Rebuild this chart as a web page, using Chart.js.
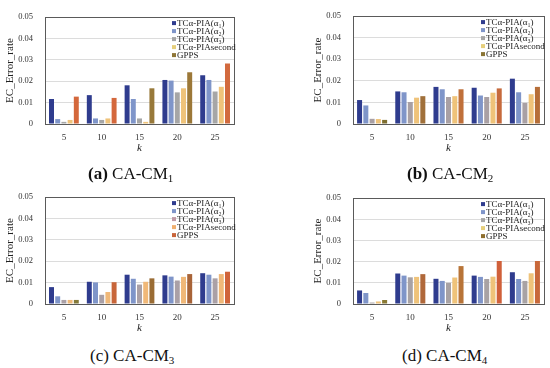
<!DOCTYPE html>
<html>
<head>
<meta charset="utf-8">
<script src="https://cdn.jsdelivr.net/npm/chart.js@4"></script>
<style>
  body { margin:0; background:#fff; }
  #wrap { position:relative; width:550px; height:368px; overflow:hidden; background:#fff; }
  canvas { position:absolute; }
  .cap { position:absolute; font-family:'Liberation Serif', serif; font-size:17px; color:#111; white-space:nowrap; }
  .cap b { font-weight:bold; }
  .cap sub { font-size:11px; vertical-align:-3px; }
</style>
</head>
<body>
<div id="wrap">
  <canvas id="c1"></canvas>
  <canvas id="c2"></canvas>
  <canvas id="c3"></canvas>
  <canvas id="c4"></canvas>
  <div class="cap" style="left:88px;top:164px"><b>(a)</b> CA-CM<sub>1</sub></div>
  <div class="cap" style="left:407px;top:164px"><b>(b)</b> CA-CM<sub>2</sub></div>
  <div class="cap" style="left:90px;top:346px">(c) CA-CM<sub>3</sub></div>
  <div class="cap" style="left:402px;top:346px">(d) CA-CM<sub>4</sub></div>
</div>
<script>
// categories and series names
const kValues = ['5', '10', '15', '20', '25']
const seriesNames = ['TCα-PIA(α₁)', 'TCα-PIA(α₂)', 'TCα-PIA(α₃)', 'TCα-PIAsecond', 'GPPS']

// CA-CM1
const cm1Alpha1 = [0.0117, 0.0135, 0.0181, 0.0206, 0.0228]
const cm1Alpha2 = [0.0023, 0.0026, 0.0117, 0.0203, 0.0206]
const cm1Alpha3 = [0.0010, 0.0019, 0.0026, 0.0148, 0.0152]
const cm1Second = [0.0019, 0.0026, 0.0010, 0.0167, 0.0174]
const cm1Gpps   = [0.0128, 0.0122, 0.0167, 0.0242, 0.0283]

// CA-CM2
const cm2Alpha1 = [0.0111, 0.0151, 0.0172, 0.0168, 0.0210]
const cm2Alpha2 = [0.0086, 0.0147, 0.0161, 0.0132, 0.0147]
const cm2Alpha3 = [0.0024, 0.0102, 0.0125, 0.0125, 0.0098]
const cm2Second = [0.0023, 0.0122, 0.0129, 0.0145, 0.0138]
const cm2Gpps   = [0.0019, 0.0129, 0.0161, 0.0165, 0.0172]

// CA-CM3
const cm3Alpha1 = [0.0079, 0.0104, 0.0137, 0.0134, 0.0144]
const cm3Alpha2 = [0.0036, 0.0101, 0.0118, 0.0128, 0.0137]
const cm3Alpha3 = [0.0019, 0.0043, 0.0091, 0.0110, 0.0120]
const cm3Second = [0.0019, 0.0056, 0.0104, 0.0127, 0.0140]
const cm3Gpps   = [0.0019, 0.0102, 0.0120, 0.0140, 0.0151]

// CA-CM4
const cm4Alpha1 = [0.0064, 0.0144, 0.0119, 0.0134, 0.0150]
const cm4Alpha2 = [0.0052, 0.0134, 0.0109, 0.0128, 0.0118]
const cm4Alpha3 = [0.0007, 0.0126, 0.0100, 0.0118, 0.0109]
const cm4Second = [0.0012, 0.0128, 0.0125, 0.0129, 0.0145]
const cm4Gpps   = [0.0019, 0.0141, 0.0179, 0.0203, 0.0203]

const yMax = 0.05
const yStep = 0.01

Chart.defaults.font.family = "'Liberation Serif', serif"
Chart.defaults.color = '#333'

// box around plot + legend drawn inside the plot area
const framePlugin = {
    id: 'frame',
    afterDraw: (chart, args, opts) => {
        const ctx = chart.ctx
        const a = chart.chartArea
        ctx.save()
        ctx.strokeStyle = '#5a5a5a'
        ctx.lineWidth = 1
        ctx.strokeRect(Math.round(a.left) + 0.5, Math.round(a.top) + 0.5, Math.round(a.right - a.left), Math.round(a.bottom - a.top))
        // legend
        ctx.font = "9px 'Liberation Serif', serif"
        ctx.textBaseline = 'middle'
        chart.data.datasets.forEach((ds, i) => {
            const y = a.top + 6 + i * 8
            const x = a.right - opts.offset
            ctx.fillStyle = opts.colors[i]
            ctx.fillRect(x, y - 2, 4, 4)
            ctx.fillStyle = '#222'
            ctx.fillText(ds.label, x + 5, y + 0.5)
        })
        ctx.restore()
    }
}

const makeChart = (id, box, series, colors, gppsColors, legendColors, legendOffset) => {
    const canvas = document.getElementById(id)
    const w = 45 + (box.right - box.left) + 6
    const h = 9 + (box.bottom - box.top) + 36
    canvas.width = w
    canvas.height = h
    canvas.style.left = (box.left - 45) + 'px'
    canvas.style.top = (box.top - 9) + 'px'

    const datasets = series.map((vals, i) => ({
        label: seriesNames[i],
        data: vals,
        backgroundColor: i === 4 ? gppsColors : colors[i],
        borderWidth: 0,
        categoryPercentage: 0.82,
        barPercentage: 0.8
    }))

    return new Chart(canvas, {
        type: 'bar',
        data: { labels: kValues, datasets: datasets },
        options: {
            responsive: false,
            animation: false,
            devicePixelRatio: 1,
            layout: { padding: { top: 9, right: 6, left: 0, bottom: 0 } },
            plugins: {
                legend: { display: false },
                tooltip: { enabled: false },
                frame: { colors: legendColors, offset: legendOffset }
            },
            scales: {
                x: {
                    grid: { display: false, drawTicks: false },
                    border: { display: false },
                    ticks: { padding: 8, font: { size: 9 }, color: '#333' },
                    title: { display: true, text: 'k', font: { size: 11, style: 'italic' }, color: '#222', padding: { top: 0, bottom: 5 } },
                    afterFit: s => { s.height = 36 }
                },
                y: {
                    min: 0,
                    max: yMax,
                    ticks: { stepSize: yStep, padding: 12, font: { size: 8.5 }, color: '#333' },
                    grid: { color: '#dcdcdc', drawTicks: false },
                    border: { display: false },
                    title: { display: true, text: 'EC_Error_rate', font: { size: 11 }, color: '#222', padding: { top: 4, bottom: 4 } },
                    afterFit: s => { s.width = 45 }
                }
            }
        },
        plugins: [framePlugin]
    })
}

const navy = '#2f3c8e'
const lightBlue = '#7f95c9'
const gray = '#a6a6a6'
const yellow = '#efc37a'

makeChart('c1', { left: 45, top: 9, right: 234, bottom: 124 },
    [cm1Alpha1, cm1Alpha2, cm1Alpha3, cm1Second, cm1Gpps],
    [navy, lightBlue, gray, yellow],
    ['#d4683c', '#d4683c', '#98793a', '#9c7838', '#d26a3e'],
    [navy, lightBlue, gray, '#e6cf7c', '#8e7536'], 62)

makeChart('c2', { left: 353, top: 8, right: 544, bottom: 124 },
    [cm2Alpha1, cm2Alpha2, cm2Alpha3, cm2Second, cm2Gpps],
    [navy, lightBlue, '#a9a0a4', yellow],
    ['#7e6e30', '#a0703a', '#c0703a', '#c66a3c', '#b66e38'],
    [navy, lightBlue, gray, '#e6cf7c', '#8a7434'], 63)

makeChart('c3', { left: 45, top: 189, right: 234, bottom: 304 },
    [cm3Alpha1, cm3Alpha2, cm3Alpha3, cm3Second, cm3Gpps],
    [navy, lightBlue, '#aaa0a6', '#f0b878'],
    ['#857a3a', '#c8663a', '#9a6c34', '#a86438', '#d0643a'],
    [navy, lightBlue, '#c09aa6', '#f0b070', '#c8643a'], 62)

makeChart('c4', { left: 353, top: 190, right: 544, bottom: 304 },
    [cm4Alpha1, cm4Alpha2, cm4Alpha3, cm4Second, cm4Gpps],
    [navy, lightBlue, '#a8a2a4', yellow],
    ['#8a7a34', '#b0683a', '#b87438', '#d0603a', '#c8683a'],
    [navy, lightBlue, gray, '#e6cf7c', '#8e6e2e'], 63)
</script>
</body>
</html>
